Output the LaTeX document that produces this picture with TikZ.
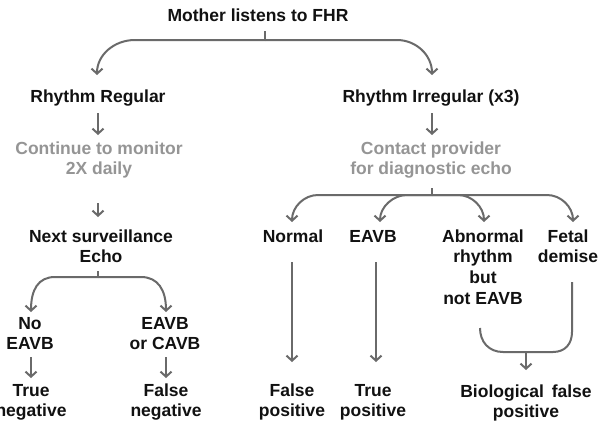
\documentclass[tikz,border=0pt]{standalone}
\usepackage{fontspec}
\setmainfont{Liberation Sans}
\usetikzlibrary{arrows.meta}
\definecolor{linegray}{HTML}{6A6A6A}
\definecolor{textgray}{HTML}{959595}
\definecolor{textblack}{HTML}{111111}
\begin{document}
\begin{tikzpicture}[x=1pt,y=-1pt,
  lbl/.style={anchor=base,inner sep=0pt,align=center,text=textblack,
    font=\bfseries\fontsize{17.5}{20.8}\selectfont},
  glbl/.style={lbl,text=textgray},
  ln/.style={draw=linegray,line width=2pt},
  arr/.style={ln,-{Straight Barb[length=5pt,width=11pt,line width=2pt]}}]
\useasboundingbox (0,0) rectangle (614,423);
\fill[white] (0,0) rectangle (614,423);
% nodes (anchor base = baseline of the last line)
\node[lbl] (top) at (258,21) {Mother listens to FHR};
\node[lbl] (rr) at (98,102) {Rhythm Regular};
\node[lbl] (ri) at (431,102) {Rhythm Irregular (x3)};
\node[glbl] (cont) at (99,174.8) {Continue to monitor\\2X daily};
\node[glbl] (cp) at (431,174.8) {Contact provider\\for diagnostic echo};
\node[lbl] (next) at (101,262.8) {Next surveillance\\Echo};
\node[lbl] (no) at (30,349.8) {No\\EAVB};
\node[lbl] (eavbl) at (165,349.8) {EAVB\\or CAVB};
\node[lbl] (tn) at (31,416.8) {True\\negative};
\node[lbl] (fn) at (166,416.8) {False\\negative};
\node[lbl] (normal) at (293,242) {Normal};
\node[lbl] (eavbr) at (373,242) {EAVB};
\node[lbl] (abn) at (483,304.4) {Abnormal\\rhythm\\but\\not EAVB};
\node[lbl] (fetal) at (568,262.8) {Fetal\\demise};
\node[lbl] (fp) at (292,416.8) {False\\positive};
\node[lbl] (tp) at (373,416.8) {True\\positive};
\node[lbl] (bfp) at (526,417.8) {Biological\hspace{0.45em}false\\positive};
% connector points
\coordinate (topS) at (265,31);
\coordinate (topJ) at (265,40);
\coordinate (rrT) at (97,75);
\coordinate (riT) at (432,75);
\coordinate (cpS) at (432,188);
\coordinate (cpJ) at (432,195);
\coordinate (nxS) at (98,271);
\coordinate (nxJ) at (98,277);
\coordinate (mrgJ) at (526,352);
% top fan
\draw[ln] (topS) -- (topJ);
\draw[arr] (topJ) -- (135,40) .. controls (114,40) and (97,55) .. (rrT);
\draw[arr] (topJ) -- (397,40) .. controls (416,40) and (432,55) .. (riT);
% simple arrows
\draw[arr] (98,113) -- (98,135);
\draw[arr] (432,113) -- (432,135);
\draw[arr] (98,203) -- (98,217);
% bottom left fan
\draw[ln] (nxS) -- (nxJ);
\draw[arr] (nxJ) -- (55,277) .. controls (38,277) and (31,290) .. (31,312);
\draw[arr] (nxJ) -- (141,277) .. controls (158,277) and (166,290) .. (166,312);
\draw[arr] (31,357) -- (31,378);
\draw[arr] (166,357) -- (166,378);
% right fan
\draw[ln] (cpS) -- (cpJ);
\draw[arr] (cpJ) -- (318,195) .. controls (304,195) and (292,207) .. (292,222);
\draw[arr] (cpJ) -- (407,195) .. controls (393,195) and (380,207) .. (380,222);
\draw[arr] (cpJ) -- (458,195) .. controls (472,195) and (484,207) .. (484,222);
\draw[arr] (cpJ) -- (547,195) .. controls (561,195) and (573,207) .. (573,222);
\draw[arr] (292,262) -- (292,362);
\draw[arr] (376,262) -- (376,362);
% merge
\draw[ln] (480,328) .. controls (480,342) and (489,352) .. (503,352) -- (553,352)
  .. controls (565,352) and (572,344) .. (572,332) -- (572,282);
\draw[arr] (mrgJ) -- (526,370);
\end{tikzpicture}
\end{document}
